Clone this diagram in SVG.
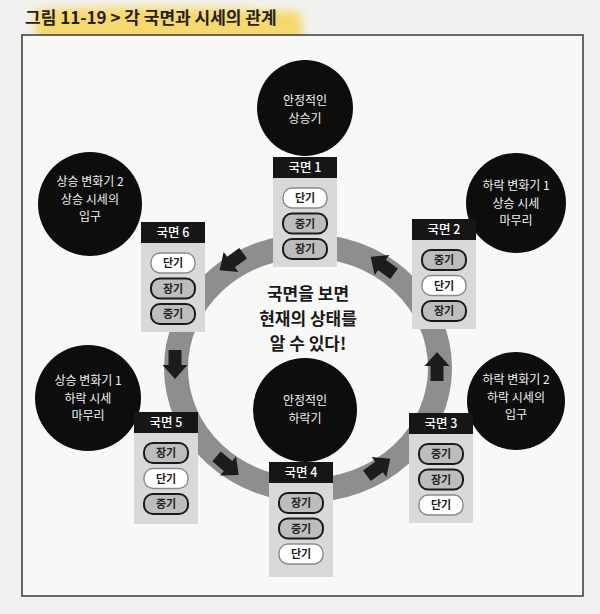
<svg xmlns="http://www.w3.org/2000/svg" width="600" height="614" viewBox="0 0 600 614">
<defs>
<style>
.hdr{fill:#161616}
.bd{fill:#d9d9d8}
.pw{fill:#ffffff;stroke:#8a8a8a;stroke-width:1.4}
.pg{fill:#bdbdbd;stroke:#1a1a1a;stroke-width:2}
.pt{font-family:"Noto Sans CJK KR","Noto Sans",sans-serif;font-size:11px;font-weight:bold;fill:#222;text-anchor:middle}
.ht{font-family:"Noto Sans CJK KR","Noto Sans",sans-serif;font-size:12.5px;font-weight:500;fill:#fff;text-anchor:middle}
.cc{fill:#0d0d0d}
.ct{font-family:"Noto Sans CJK KR","Noto Sans",sans-serif;font-size:12px;fill:#f2f2f2;text-anchor:middle}
.arr{fill:#1c1c1c}
</style>
<filter id="blur" x="-10%" y="-50%" width="120%" height="200%"><feGaussianBlur stdDeviation="4"/></filter>
<path id="ar" d="M-15,-6.5 L0,-6.5 L0,-12.5 L14,0 L0,12.5 L0,6.5 L-15,6.5 Z"/>
</defs>
<rect width="600" height="614" fill="#f1f1ef"/>
<path d="M34,10 Q160,4 300,12 L304,42 Q170,48 36,42 Z" fill="#f7d65e" opacity="0.9" filter="url(#blur)"/>
<text x="25" y="24" font-family="'Noto Sans CJK KR','Noto Sans',sans-serif" font-size="17" font-weight="bold" fill="#222">그림 11-19 &gt; 각 국면과 시세의 관계</text>
<rect x="22" y="35" width="561" height="561" fill="#f8f8f6" stroke="#3a3a3a" stroke-width="1.5"/>

<g id="connectors">
<ellipse cx="308" cy="368" rx="132" ry="122" fill="none" stroke="#8e8e8e" stroke-width="24"/>
<use href="#ar" class="arr" transform="translate(231,262) rotate(144)"/>
<use href="#ar" class="arr" transform="translate(175,365) rotate(90)"/>
<use href="#ar" class="arr" transform="translate(228,466) rotate(40)"/>
<use href="#ar" class="arr" transform="translate(379,467) rotate(-36)"/>
<use href="#ar" class="arr" transform="translate(437,366) rotate(-90)"/>
<use href="#ar" class="arr" transform="translate(382,265) rotate(-144)"/>
</g>

<g id="center-text" font-family="'Noto Sans CJK KR','Noto Sans',sans-serif" font-size="17" font-weight="bold" fill="#1a1a1a" text-anchor="middle">
<text x="308" y="300">국면을 보면</text>
<text x="308" y="325">현재의 상태를</text>
<text x="308" y="350">알 수 있다!</text>
</g>

<g id="c1"><circle class="cc" cx="305" cy="108" r="48"/><text class="ct" x="305" y="105">안정적인</text><text class="ct" x="305" y="123">상승기</text></g>
<g id="c2"><circle class="cc" cx="516" cy="203" r="50"/><text class="ct" x="516" y="190">하락 변화기 1</text><text class="ct" x="516" y="207.5">상승 시세</text><text class="ct" x="516" y="225">마무리</text></g>
<g id="c3"><circle class="cc" cx="516" cy="401" r="49"/><text class="ct" x="516" y="384">하락 변화기 2</text><text class="ct" x="516" y="401.5">하락 시세의</text><text class="ct" x="516" y="419">입구</text></g>
<g id="c4"><circle class="cc" cx="305" cy="410" r="52"/><text class="ct" x="305" y="405">안정적인</text><text class="ct" x="305" y="423">하락기</text></g>
<g id="c5"><circle class="cc" cx="88" cy="398" r="53"/><text class="ct" x="88" y="385">상승 변화기 1</text><text class="ct" x="88" y="402.5">하락 시세</text><text class="ct" x="88" y="420">마무리</text></g>
<g id="c6"><circle class="cc" cx="90" cy="204" r="52"/><text class="ct" x="90" y="186">상승 변화기 2</text><text class="ct" x="90" y="203.5">상승 시세의</text><text class="ct" x="90" y="221">입구</text></g>

<g id="phase1">
<rect class="bd" x="273" y="178" width="64" height="89"/><rect class="hdr" x="273" y="157" width="64" height="21"/>
<text class="ht" x="305" y="172">국면 1</text>
<rect class="pw" x="283" y="188" width="44" height="20" rx="9"/><text class="pt" x="305" y="202">단기</text>
<rect class="pg" x="283" y="213.5" width="44" height="20" rx="9"/><text class="pt" x="305" y="227.5">중기</text>
<rect class="pg" x="283" y="239" width="44" height="20" rx="9"/><text class="pt" x="305" y="253">장기</text>
</g>
<g id="phase2">
<rect class="bd" x="412" y="240" width="64" height="89"/><rect class="hdr" x="412" y="219" width="64" height="21"/>
<text class="ht" x="444" y="234">국면 2</text>
<rect class="pg" x="422" y="250" width="44" height="20" rx="9"/><text class="pt" x="444" y="264">중기</text>
<rect class="pw" x="422" y="275.5" width="44" height="20" rx="9"/><text class="pt" x="444" y="289.5">단기</text>
<rect class="pg" x="422" y="301" width="44" height="20" rx="9"/><text class="pt" x="444" y="315">장기</text>
</g>
<g id="phase3">
<rect class="bd" x="409" y="434" width="64" height="89"/><rect class="hdr" x="409" y="413" width="64" height="21"/>
<text class="ht" x="441" y="428">국면 3</text>
<rect class="pg" x="419" y="444" width="44" height="20" rx="9"/><text class="pt" x="441" y="458">중기</text>
<rect class="pg" x="419" y="469.5" width="44" height="20" rx="9"/><text class="pt" x="441" y="483.5">장기</text>
<rect class="pw" x="419" y="495" width="44" height="20" rx="9"/><text class="pt" x="441" y="509">단기</text>
</g>
<g id="phase4">
<rect class="bd" x="269" y="483" width="64" height="94"/><rect class="hdr" x="269" y="462" width="64" height="21"/>
<text class="ht" x="301" y="477">국면 4</text>
<rect class="pg" x="279" y="493" width="44" height="20" rx="9"/><text class="pt" x="301" y="507">장기</text>
<rect class="pg" x="279" y="518.5" width="44" height="20" rx="9"/><text class="pt" x="301" y="532.5">중기</text>
<rect class="pw" x="279" y="544" width="44" height="20" rx="9"/><text class="pt" x="301" y="558">단기</text>
</g>
<g id="phase5">
<rect class="bd" x="134" y="433" width="64" height="91"/><rect class="hdr" x="134" y="412" width="64" height="21"/>
<text class="ht" x="166" y="427">국면 5</text>
<rect class="pg" x="144" y="443" width="44" height="20" rx="9"/><text class="pt" x="166" y="457">장기</text>
<rect class="pw" x="144" y="468.5" width="44" height="20" rx="9"/><text class="pt" x="166" y="482.5">단기</text>
<rect class="pg" x="144" y="494" width="44" height="20" rx="9"/><text class="pt" x="166" y="508">중기</text>
</g>
<g id="phase6">
<rect class="bd" x="141" y="243" width="64" height="89"/><rect class="hdr" x="141" y="222" width="64" height="21"/>
<text class="ht" x="173" y="237">국면 6</text>
<rect class="pw" x="151" y="253" width="44" height="20" rx="9"/><text class="pt" x="173" y="267">단기</text>
<rect class="pg" x="151" y="278.5" width="44" height="20" rx="9"/><text class="pt" x="173" y="292.5">장기</text>
<rect class="pg" x="151" y="304" width="44" height="20" rx="9"/><text class="pt" x="173" y="318">중기</text>
</g>
</svg>
